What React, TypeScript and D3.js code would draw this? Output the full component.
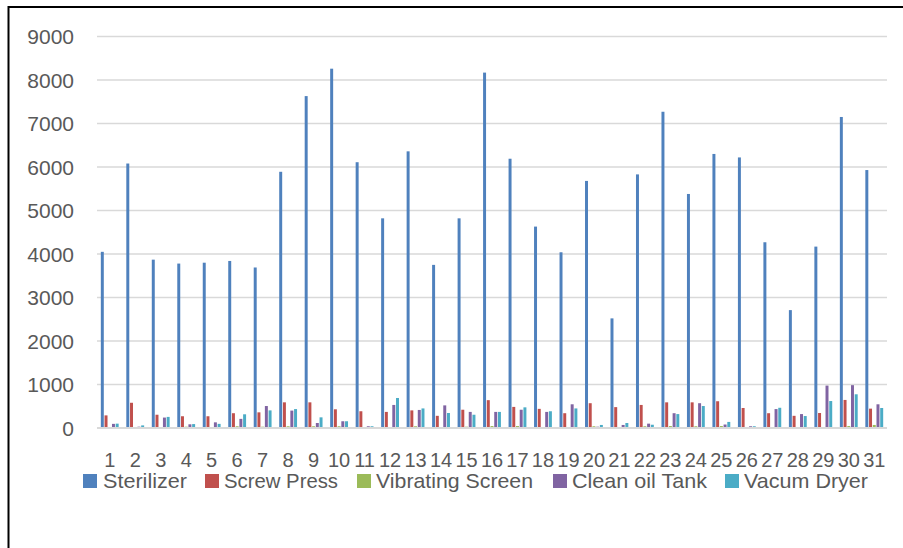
import React from 'react'
import * as d3 from 'd3'

const days = d3.range(1, 32).map(String)
const seriesNames = ['Sterilizer', 'Screw Press', 'Vibrating Screen', 'Clean oil Tank', 'Vacum Dryer']
const colors = ['#4F81BD', '#C0504D', '#9BBB59', '#8064A2', '#4BACC6']

const sterilizer = [4050, 6080, 3870, 3780, 3800, 3840, 3690, 5890, 7630, 8260, 6110, 4820, 6360, 3750, 4820, 8170, 6190, 4630, 4040, 5680, 2520, 5830, 7270, 5380, 6300, 6220, 4270, 2710, 4170, 7150, 5930]
const screwPress = [290, 580, 305, 270, 270, 340, 360, 590, 590, 430, 385, 370, 405, 280, 420, 640, 485, 440, 340, 570, 480, 530, 590, 590, 615, 460, 340, 280, 345, 645, 445]
const vibratingScreen = [20, 10, 20, 30, 20, 40, 30, 40, 40, 40, 20, 20, 40, 20, 30, 45, 45, 20, 20, 40, 20, 40, 45, 40, 45, 20, 20, 10, 20, 45, 70]
const cleanOilTank = [95, 30, 240, 85, 130, 210, 505, 400, 115, 155, 40, 530, 415, 520, 370, 370, 420, 370, 545, 30, 70, 100, 340, 570, 80, 40, 435, 320, 975, 985, 545]
const vacumDryer = [100, 60, 255, 90, 95, 315, 405, 435, 245, 155, 40, 690, 450, 345, 305, 370, 475, 385, 450, 70, 115, 75, 320, 505, 140, 40, 465, 275, 620, 775, 460]
const yTicks = d3.range(0, 9001, 1000)

const allSeries = [sterilizer, screwPress, vibratingScreen, cleanOilTank, vacumDryer]

// legend layout
const legendSquareX = [83, 205, 357, 553, 725]
const legendTextX = [103, 224, 376, 572, 744]
const legendTextW = [84, 114, 157, 135, 124]

const App: React.FunctionComponent = () => {
  const margin = { top: 36.5, left: 97, bottom: 120, right: 16 }
  const width = 903
  const height = 548
  const plotBottom = height - margin.bottom

  const x0 = d3
    .scaleBand()
    .domain(days)
    .range([margin.left, width - margin.right])
    .paddingInner(0.3)
    .paddingOuter(0.15)

  const x1 = d3
    .scaleBand()
    .domain(seriesNames)
    .range([0, x0.bandwidth()])
    .paddingInner(0.2)

  const y = d3.scaleLinear().domain([0, 9000]).range([plotBottom, margin.top])

  const step = x0.step()
  const gridLeft = margin.left
  const gridRight = width - margin.right
  const font = '"Liberation Sans", Arial, sans-serif'

  return (
    <svg
      width={width}
      height={height}
      style={{ position: 'absolute', left: 0, top: 0, background: '#fff' }}
      fontFamily={font}
    >
      <path d={`M8.5,${height} V7 H${width}`} fill="none" stroke="#000" strokeWidth={2} />

      {yTicks.map(t => (
        <g key={t}>
          {t > 0 && (
            <line
              x1={gridLeft}
              x2={gridRight}
              y1={y(t)}
              y2={y(t)}
              stroke="#d9d9d9"
              strokeWidth={1.5}
            />
          )}
          <text
            x={74}
            y={y(t)}
            dy="0.36em"
            textAnchor="end"
            fontSize={21}
            fill="#595959"
          >
            {t}
          </text>
        </g>
      ))}

      {days.map((d, i) => (
        <g key={d}>
          {allSeries.map((s, j) => (
            <rect
              key={j}
              x={(x0(d) || 0) + (x1(seriesNames[j]) || 0)}
              y={y(s[i])}
              width={x1.bandwidth()}
              height={plotBottom - y(s[i])}
              fill={colors[j]}
            />
          ))}
        </g>
      ))}

      <line
        x1={gridLeft}
        x2={gridRight}
        y1={plotBottom}
        y2={plotBottom}
        stroke="#d9d9d9"
        strokeWidth={2.2}
      />

      {days.map(d => (
        <text
          key={d}
          x={(x0(d) || 0) - (step - x0.bandwidth()) / 2 + step / 2}
          y={467}
          textAnchor="middle"
          fontSize={20}
          fill="#595959"
        >
          {d}
        </text>
      ))}

      {seriesNames.map((name, j) => (
        <g key={name}>
          <rect x={legendSquareX[j]} y={474} width={14} height={14} fill={colors[j]} />
          <text
            x={legendTextX[j]}
            y={488}
            fontSize={21}
            fill="#595959"
            textLength={legendTextW[j]}
            lengthAdjust="spacingAndGlyphs"
          >
            {name}
          </text>
        </g>
      ))}
    </svg>
  )
}

export default App
